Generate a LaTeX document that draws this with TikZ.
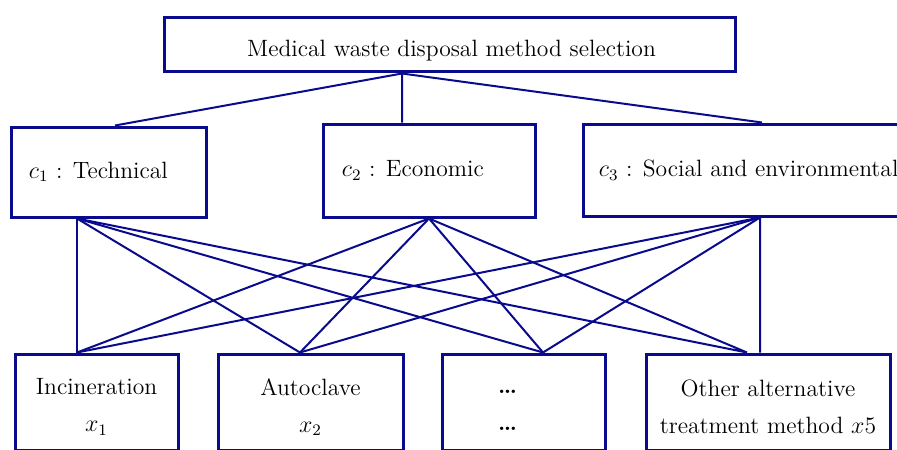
\documentclass[tikz,border=0pt]{standalone}
\usepackage{amsmath}
\usetikzlibrary{positioning,calc}
\definecolor{navy}{RGB}{10,10,140}
\tikzset{
  box/.style={draw=navy,line width=1.5pt,inner sep=0pt},
  lbl/.style={font=\fontsize{11.8}{18.5}\selectfont,inner sep=0pt},
  link/.style={draw=navy,line width=1pt},
}

\begin{document}
\begin{tikzpicture}[x=0.5pt,y=-0.5pt]
  \useasboundingbox (0,0) rectangle (897,449);
  \clip (0,0) rectangle (897,449);
  % goal
  \node[box,minimum width=285.5pt,minimum height=27pt] (top) at (449.5,45) {};
  \node[lbl] (toptxt) at ($(top)+(2,6)$) {Medical waste disposal method selection};
  % criteria
  \node[box,minimum width=97.5pt,minimum height=45pt] (c1) at (108.5,172) {};
  \node[box,minimum width=106pt,minimum height=46.5pt] (c2) at (429,170.5) {};
  \node[box,minimum width=180pt,minimum height=46pt] (c3) at (763,170) {};
  \node[lbl,right=9.5pt of c1.west] (c1txt) {$c_1$ : Technical};
  \node[lbl,right=10pt of c2.west] (c2txt) {$c_2$ : Economic};
  \node[lbl,right=8.5pt of c3.west] (c3txt) {$c_3$ : Social and environmental};
  % alternatives
  \node[box,minimum width=81.5pt,minimum height=48pt] (x1) at (96.5,402) {};
  \node[box,minimum width=92.5pt,minimum height=48pt] (x2) at (310.5,402) {};
  \node[box,minimum width=81.5pt,minimum height=48pt] (x3) at (523.5,402) {};
  \node[box,minimum width=122pt,minimum height=48pt] (x4) at (768,402) {};
  \node[lbl,align=center] (x1txt) at ($(x1)+(0,5)$) {Incineration\\ $x_1$};
  \node[lbl,align=center] (x2txt) at ($(x2)+(0,5)$) {Autoclave\\ $x_2$};
  \node[lbl,align=center] (x3txt) at ($(x3)+(-16,8)$) {\textbf{\dots}\\ \textbf{\dots}};
  \node[lbl,align=center] (x4txt) at ($(x4)+(0,5)$) {Other alternative\\ treatment method $x$5};
  % junction points
  \coordinate (g) at ($(top.south)+(-47.5,0)$);
  \coordinate (c1t) at ($(c1.north)+(6.5,0)$);
  \coordinate (c2t) at (g |- c2.north);
  \coordinate (c3t) at ($(c3.north)+(-1,0)$);
  \coordinate (c1b) at ($(c1.south)+(-31.5,0)$);
  \coordinate (c2b) at (c2.south);
  \coordinate (c3b) at ($(c3.south)+(-3,0)$);
  \coordinate (p1) at (c1b |- x1.north);
  \coordinate (p2) at ($(x2.north)+(-10.5,0)$);
  \coordinate (p3) at ($(x3.north)+(19.5,0)$);
  \coordinate (p4) at ($(x4.north)+(-21,0)$);
  \coordinate (q4) at (c3b |- x4.north);
  % links
  \draw[link] (g) -- (c1t) (g) -- (c2t) (g) -- (c3t);
  \foreach \a in {c1b,c2b,c3b}
    \foreach \b in {p1,p2,p3}
      \draw[link] (\a) -- (\b);
  \draw[link] (c1b) -- (p4) (c2b) -- (p4) (c3b) -- (q4);
\end{tikzpicture}
\end{document}
